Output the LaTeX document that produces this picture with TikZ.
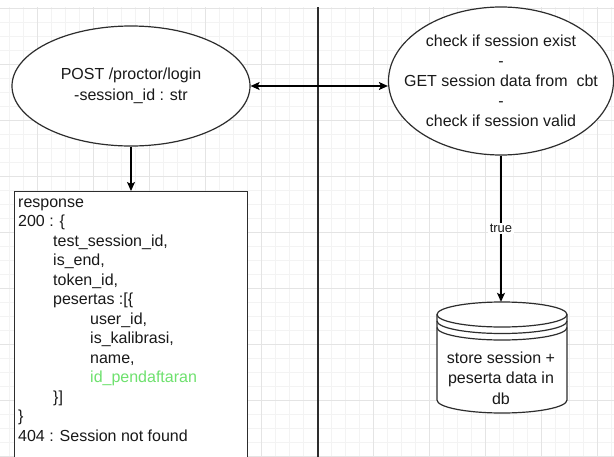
\documentclass[tikz,border=0pt]{standalone}
\usepackage{fontspec}
\setmainfont{Liberation Sans}
\usetikzlibrary{arrows.meta,shapes.geometric,calc}

\definecolor{gridminor}{RGB}{243,243,243}
\definecolor{gridmajor}{RGB}{228,228,228}
\definecolor{outline}{RGB}{45,45,45}
\definecolor{ink}{RGB}{25,25,25}
\definecolor{paleGreen}{RGB}{110,225,110}

\tikzset{
  shapeline/.style={draw=outline, line width=1.2pt},
  bubble/.style={ellipse, shapeline, fill=white, inner sep=0pt},
  flow/.style={draw=black, line width=1.2pt,
    -{Stealth[length=9pt,width=8pt,inset=2pt]}},
  twoway/.style={draw=black, line width=1.2pt,
    {Stealth[length=9pt,width=8pt,inset=2pt]}-{Stealth[length=9pt,width=8pt,inset=2pt]}},
  bodytext/.style={text=ink, font=\fontsize{16}{19.5}\selectfont, inner sep=0pt}
}

\begin{document}
\begin{tikzpicture}[x=1pt,y=-1pt]
  \useasboundingbox (0,0) rectangle (614,456);
  \clip (0,0) rectangle (614,456);

  % canvas grid
  \fill[white] (0,0) rectangle (614,456);
  \foreach \gx in {9,23,...,614} \draw[gridminor, line width=0.6pt] (\gx,7) -- (\gx,456);
  \foreach \gy in {8,22,...,456} \draw[gridminor, line width=0.6pt] (0,\gy) -- (614,\gy);
  \foreach \gx in {37,93,...,614} \draw[gridmajor, line width=0.9pt] (\gx,7) -- (\gx,456);
  \foreach \gy in {8,64,...,456} \draw[gridmajor, line width=0.9pt] (0,\gy) -- (614,\gy);

  % divider between the two sides
  \draw[outline, line width=1.4pt] (318,7) -- (318,458);

  % login endpoint
  \node[bubble, minimum width=238pt, minimum height=120pt] (login) at (131,86) {};
  \node[bodytext, align=center, font=\fontsize{16}{21}\selectfont] (logintext) at (login.center)
    {POST /proctor/login\\-session\_id : str};

  % session checks
  \node[bubble, minimum width=225pt, minimum height=148pt] (check) at (501,81) {};
  \node[bodytext, align=center, font=\fontsize{16}{20}\selectfont] (checktext) at (check.center)
    {check if session exist\\-\\GET session data from \ cbt\\-\\check if session valid};

  % response box
  \node[rectangle, shapeline, fill=white, anchor=north west,
        minimum width=233pt, minimum height=275pt, inner sep=0pt] (resp) at (14,191) {};
  \node[bodytext, anchor=north west, align=left] (resptext) at (18,198.5) {%
    response\\
    200 : \{\\
    \hspace*{35pt}test\_session\_id,\\
    \hspace*{35pt}is\_end,\\
    \hspace*{35pt}token\_id,\\
    \hspace*{35pt}pesertas :[\{\\
    \hspace*{72pt}user\_id,\\
    \hspace*{72pt}is\_kalibrasi,\\
    \hspace*{72pt}name,\\
    \hspace*{72pt}\textcolor{paleGreen}{id\_pendaftaran}\\
    \hspace*{35pt}\}]\\
    \}\\
    404 : Session not found};

  % datastore cylinder
  \filldraw[shapeline, fill=white]
    (437,314.5) -- (437,400)
    arc[start angle=180, end angle=0, x radius=65, y radius=13]
    -- (567,314.5);
  \draw[shapeline, fill=white] (502,314.5) ellipse [x radius=65, y radius=12.5];
  \draw[shapeline] (437,321) arc[start angle=180, end angle=0, x radius=65, y radius=12.5];
  \draw[shapeline] (437,327.5) arc[start angle=180, end angle=0, x radius=65, y radius=12.5];
  \node[inner sep=0pt, minimum width=130pt, minimum height=111pt] (db) at (502,357.5) {};
  \node[bodytext, align=center, font=\fontsize{16}{20.5}\selectfont] (dbtext) at (501,378)
    {store session +\\peserta data in\\db};

  % connectors
  \draw[flow] (login.south) -- (login.south |- resp.north);
  \draw[twoway] (login.east) -- (login.east -| check.west);
  \draw[flow] (check.south) -- node[pos=0.5, fill=white, inner sep=1.5pt, text=ink,
      font=\fontsize{13}{15}\selectfont] (truelabel) {true} (check.south |- db.north);
\end{tikzpicture}
\end{document}
